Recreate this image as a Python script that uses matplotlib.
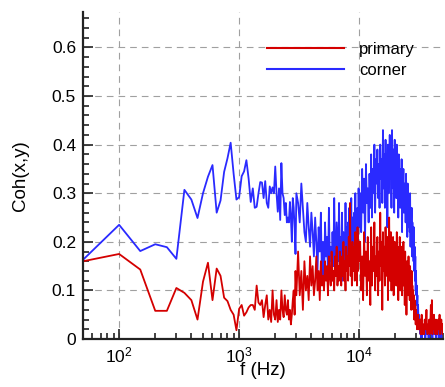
import numpy as np
import matplotlib
matplotlib.use("Agg")
import matplotlib.pyplot as plt
from matplotlib.ticker import LogLocator, MultipleLocator

plt.rcParams['font.family'] = ['Liberation Sans', 'DejaVu Sans']

# frequency bins (Hz): 50 Hz steps at low f, coarser where the curves are dense
f_low = np.arange(50, 3001, 50)
f_mid = np.arange(3100, 10001, 100)
f_high = np.arange(10200, 34001, 200)
f_tail = np.arange(34400, 50001, 400)
freq = np.concatenate([f_low, f_mid, f_high, f_tail])

corner_low = [.163, .235, .181, .195, .189, .165, .307, .287, .249, .300,
              .334, .358, .260, .285, .344, .372, .404, .340, .287, .292,
              .335, .345, .368, .330, .282, .310, .270, .272, .300, .323,
              .322, .290, .325, .280, .270, .314, .300, .312, .300, .355,
              .300, .262, .310, .245, .362, .300, .290, .255, .280, .240,
              .250, .240, .282, .250, .200, .290, .270, .230, .175, .300]
corner_mid = [.28, .24, .32, .27, .22, .20, .28, .23, .19, .26,
              .22, .17, .25, .20, .14, .23, .18, .26, .12, .20,
              .11, .24, .17, .21, .13, .27, .16, .19, .12, .22,
              .15, .29, .18, .13, .24, .20, .16, .28, .14, .21,
              .17, .26, .12, .22, .19, .15, .28, .18, .23, .16,
              .24, .19, .27, .15, .22, .29, .18, .25, .20, .17,
              .26, .21, .30, .18, .24, .20, .27, .19, .31, .23]
corner_high = [.30, .22, .35, .26, .33, .20, .36, .28, .31, .24,
               .34, .27, .38, .25, .35, .30, .40, .26, .37, .32,
               .39, .29, .36, .27, .40, .33, .37, .28, .43, .31,
               .38, .27, .41, .34, .36, .23, .40, .30, .37, .42,
               .33, .38, .27, .43, .35, .31, .39, .26, .41, .34,
               .37, .29, .40, .32, .36, .25, .38, .30, .35, .27,
               .34, .28, .37, .22, .33, .30, .35, .26, .32, .29,
               .31, .24, .34, .27, .30, .21, .32, .26, .29, .23,
               .28, .22, .30, .19, .26, .23, .27, .17, .24, .20,
               .22, .16, .23, .14, .19, .12, .17, .10, .14, .09,
               .11, .07, .09, .05, .07, .04, .05, .03, .04, .02,
               .03, .01, .02, .00, .01, .02, .00, .01, .03, .01]
corner_tail = [.02, .01, .03, .00, .02, .01, .02, .03, .01, .00,
               .02, .01, .03, .02, .01, .02, .00, .03, .01, .02,
               .01, .03, .02, .00, .01, .02, .03, .01, .02, .00,
               .01, .03, .02, .01, .02, .00, .03, .01, .02, .01]

primary_low = [.160, .175, .143, .058, .058, .105, .095, .080, .040, .118,
               .157, .080, .145, .130, .085, .078, .060, .050, .018, .062,
               .070, .048, .055, .065, .070, .070, .060, .110, .075, .070,
               .080, .045, .070, .090, .040, .060, .035, .100, .050, .040,
               .080, .035, .060, .040, .100, .060, .045, .090, .060, .050,
               .080, .040, .060, .030, .050, .080, .100, .050, .140, .090]
primary_mid = [.18, .09, .14, .06, .16, .10, .13, .08, .17, .11,
               .15, .09, .12, .17, .10, .14, .08, .16, .11, .13,
               .10, .16, .12, .15, .09, .17, .13, .11, .18, .12,
               .14, .10, .17, .13, .19, .11, .15, .12, .18, .14,
               .11, .17, .13, .20, .12, .16, .10, .19, .14, .17,
               .12, .21, .15, .28, .13, .18, .11, .20, .16, .14,
               .19, .12, .22, .15, .17, .11, .23, .14, .20, .16]
primary_high = [.20, .10, .17, .08, .22, .13, .18, .09, .21, .12,
                .16, .07, .23, .11, .19, .14, .24, .10, .17, .13,
                .21, .09, .18, .12, .26, .15, .20, .06, .22, .14,
                .19, .11, .23, .16, .13, .21, .08, .18, .25, .12,
                .17, .22, .10, .19, .14, .21, .09, .16, .20, .13,
                .18, .11, .22, .15, .19, .08, .17, .13, .21, .10,
                .16, .12, .19, .09, .17, .14, .20, .11, .15, .07,
                .18, .12, .15, .05, .16, .11, .14, .09, .17, .10,
                .13, .08, .15, .11, .12, .06, .14, .09, .11, .07,
                .10, .06, .09, .04, .08, .05, .07, .03, .06, .04,
                .05, .02, .04, .03, .05, .02, .03, .04, .02, .03,
                .02, .04, .01, .03, .02, .05, .02, .01, .03, .02]
primary_tail = [.03, .01, .04, .02, .03, .06, .02, .01, .03, .02,
                .04, .01, .03, .07, .02, .08, .01, .04, .02, .05,
                .02, .03, .01, .04, .02, .03, .01, .02, .04, .03,
                .02, .05, .01, .03, .02, .04, .02, .03, .01, .03]

corner = np.array(corner_low + corner_mid + corner_high + corner_tail)
primary = np.array(primary_low + primary_mid + primary_high + primary_tail)

fig = plt.figure(figsize=(4.45, 3.87), dpi=100)
ax = fig.add_axes([0.1865, 0.124, 0.809, 0.845])

l_corner, = ax.plot(freq, corner, color='#2a2aff', lw=1.3)
l_primary, = ax.plot(freq, primary, color='#d40000', lw=1.3)

ax.set_xscale('log')
ax.set_xlim(50, 50000)
ax.set_ylim(0, 0.673)

ax.xaxis.set_major_locator(LogLocator(base=10, numticks=10))
ax.xaxis.set_minor_locator(LogLocator(base=10, subs=np.arange(2, 10), numticks=10))
ax.yaxis.set_major_locator(MultipleLocator(0.1))
ax.yaxis.set_minor_locator(MultipleLocator(0.02))
ax.set_yticks([0, 0.1, 0.2, 0.3, 0.4, 0.5, 0.6])
ax.set_yticklabels(['0', '0.1', '0.2', '0.3', '0.4', '0.5', '0.6'])

ax.tick_params(which='both', direction='in', labelsize=12.5, width=1.2, color='#222222')
ax.tick_params(which='major', length=7, pad=5)
ax.tick_params(which='minor', length=4)
ax.tick_params(axis='x', which='major', pad=5)

for s in ['top', 'right']:
    ax.spines[s].set_visible(False)
for s in ['left', 'bottom']:
    ax.spines[s].set_linewidth(1.6)
    ax.spines[s].set_color('#222222')

ax.grid(True, which='major', linestyle=(0, (6, 4.5)), color='#a0a0a0', lw=0.8)

ax.set_xlabel('f (Hz)', fontsize=13.5)
ax.set_ylabel('Coh(x,y)', fontsize=13.5)
ax.xaxis.set_label_coords(0.5, -0.07)
ax.yaxis.set_label_coords(-0.15, 0.5)

leg = ax.legend([l_primary, l_corner], ['primary', 'corner'], frameon=False,
                fontsize=12, handlelength=4.6, handletextpad=0.9,
                labelspacing=0.35, loc='upper left', bbox_to_anchor=(0.47, 0.955))
for h in leg.get_lines():
    h.set_linewidth(1.5)

fig.savefig('out.png', dpi=100)
